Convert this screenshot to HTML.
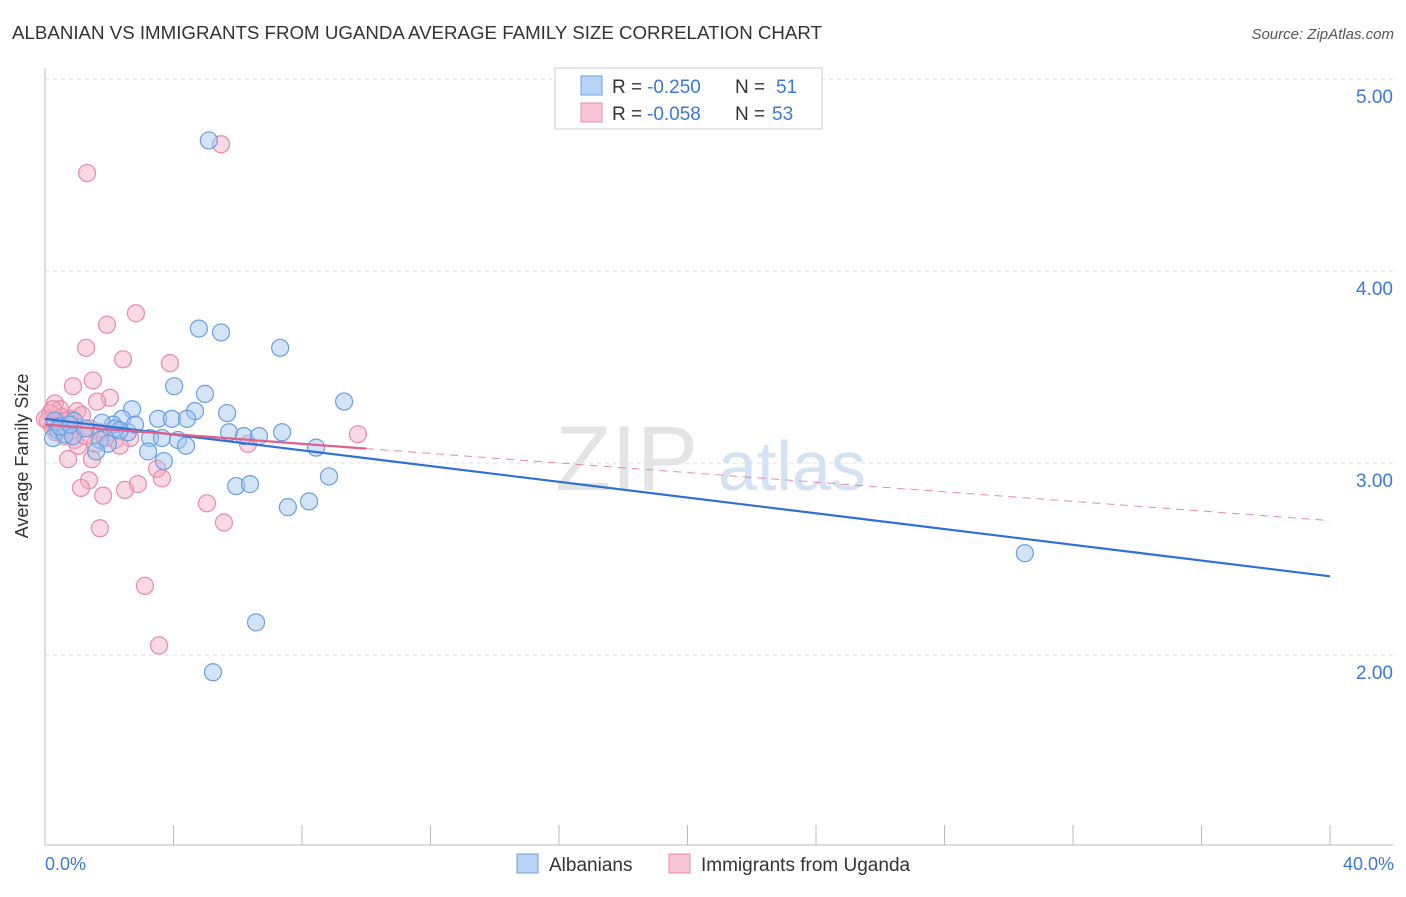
<!DOCTYPE html>
<html><head><meta charset="utf-8"><style>
body{margin:0;background:#fff;font-family:"Liberation Sans",sans-serif;}
svg text{font-family:"Liberation Sans",sans-serif;}
</style></head><body>
<svg id="chart" width="1406" height="892">
<text x="12" y="39" font-size="18.6" fill="#333" textLength="810" lengthAdjust="spacingAndGlyphs">ALBANIAN VS IMMIGRANTS FROM UGANDA AVERAGE FAMILY SIZE CORRELATION CHART</text>
<text x="1394" y="39" font-size="15" fill="#555" font-style="italic" text-anchor="end">Source: ZipAtlas.com</text>
<g id="grid"></g>
<g>
<text x="555" y="490" font-size="92" fill="#e4e4e4" font-family="Liberation Serif,serif">ZIP</text>
<text x="718" y="490" font-size="70" fill="#d3e2f4">atlas</text>
</g>
<g id="pts"></g>
<g id="lines"></g>
<text x="28" y="456" font-size="18" fill="#333" text-anchor="middle" transform="rotate(-90 28 456)">Average Family Size</text>
<text x="45" y="870" font-size="18" fill="#3b78d8">0.0%</text>
<text x="1394" y="870" font-size="18" fill="#3b78d8" text-anchor="end">40.0%</text>
<g>
<rect x="555" y="68" width="267" height="61" fill="#fff" stroke="#ccc"/>
<rect x="581" y="76" width="21" height="19" fill="#b9d3f5" stroke="#6a9fe0"/>
<rect x="581" y="103" width="21" height="19" fill="#f8c6d6" stroke="#e88aa8"/>
<text x="612" y="93" font-size="19" fill="#333">R =</text>
<text x="647" y="93" font-size="19" fill="#3b78d8">-0.250</text>
<text x="735" y="93" font-size="19" fill="#333">N =</text>
<text x="776" y="93" font-size="19" fill="#3b78d8">51</text>
<text x="612" y="120" font-size="19" fill="#333">R =</text>
<text x="647" y="120" font-size="19" fill="#3b78d8">-0.058</text>
<text x="735" y="120" font-size="19" fill="#333">N =</text>
<text x="772" y="120" font-size="19" fill="#3b78d8">53</text>
</g>
<g>
<rect x="517" y="854" width="21" height="19" fill="#b9d3f5" stroke="#6a9fe0"/>
<text x="549" y="871" font-size="19" fill="#333">Albanians</text>
<rect x="669" y="854" width="21" height="19" fill="#f8c6d6" stroke="#e88aa8"/>
<text x="701" y="871" font-size="19" fill="#333">Immigrants from Uganda</text>
</g>
</svg>
<script>
const yTicks=[5,4,3,2];
const yTickLabels=["5.00","4.00","3.00","2.00"];
const blueX=[5.10,4.79,5.48,7.32,9.31,4.02,4.98,2.71,2.40,3.52,3.95,4.67,5.67,4.42,2.12,1.77,0.90,0.31,0.40,0.25,0.62,0.87,1.25,1.71,1.96,2.58,3.27,3.64,4.14,4.39,5.73,6.19,6.66,7.38,8.44,1.59,3.21,3.70,5.95,6.38,8.84,7.56,8.22,30.5,6.57,5.23,0.47,0.78,2.18,2.80,2.33];
const blueY=[4.68,3.70,3.68,3.60,3.32,3.40,3.36,3.28,3.23,3.23,3.23,3.27,3.26,3.23,3.20,3.21,3.22,3.22,3.17,3.13,3.15,3.14,3.18,3.12,3.10,3.16,3.13,3.13,3.12,3.09,3.16,3.14,3.14,3.16,3.08,3.06,3.06,3.01,2.88,2.89,2.93,2.77,2.80,2.53,2.17,1.91,3.19,3.20,3.18,3.20,3.17];
const pinkX=[5.48,1.31,2.83,1.93,1.28,2.43,3.89,1.49,0.87,2.02,1.62,0.31,0.47,1.00,1.15,0.16,0.09,0.47,0.72,1.40,1.71,0.34,0.59,0.93,1.56,2.65,6.32,9.74,0.72,1.46,3.49,3.64,1.37,1.12,2.89,2.49,1.81,5.04,5.57,1.71,3.11,3.55,0.22,0.0,1.03,2.18,0.78,0.53,1.25,2.33,1.87,0.25,0.65];
const pinkY=[4.66,4.51,3.78,3.72,3.60,3.54,3.52,3.43,3.40,3.34,3.32,3.31,3.28,3.27,3.25,3.26,3.22,3.20,3.18,3.18,3.16,3.16,3.14,3.12,3.10,3.13,3.10,3.15,3.02,3.02,2.97,2.92,2.91,2.87,2.89,2.86,2.83,2.79,2.69,2.66,2.36,2.05,3.19,3.23,3.09,3.12,3.23,3.24,3.14,3.09,3.13,3.28,3.22];
const blueTrend=[3.23,2.41];
const pinkTrend=[3.20,2.70];
const pinkSolidEnd=10;
const NS="http://www.w3.org/2000/svg";
const sx=v=>45+v/40*1285;
const sy=v=>79+(5-v)*192;
const grid=document.getElementById('grid');
function mk(tag,attrs,parent){const e=document.createElementNS(NS,tag);for(const k in attrs)e.setAttribute(k,attrs[k]);parent.appendChild(e);return e;}
let ax=mk('line',{x1:45,y1:68,x2:45,y2:845,stroke:'#bbb'},grid);


let bx=mk('line',{x1:45,y1:845,x2:1393,y2:845,stroke:'#bbb'},grid);


for(let i=1;i<=10;i++){const t=mk('line',{x1:sx(i*4),x2:sx(i*4),y1:825,y2:845,stroke:'#bbb'},grid);

}
yTicks.forEach((v,i)=>{const g=mk('line',{x1:45,x2:1393,y1:sy(v),y2:sy(v),stroke:'#ddd','stroke-dasharray':'4,4'},grid);


const t=mk('text',{x:1393,y:sy(v)+24,'font-size':19,fill:'#3b78d8','text-anchor':'end'},grid);t.textContent=yTickLabels[i];

});
const pts=document.getElementById('pts');
pinkX.forEach((x,i)=>{const c=mk('circle',{cx:sx(x),cy:sy(pinkY[i]),r:8.5,fill:'rgba(244,170,195,0.45)',stroke:'#e88aa8','stroke-width':1.2},pts);

});
blueX.forEach((x,i)=>{const c=mk('circle',{cx:sx(x),cy:sy(blueY[i]),r:8.5,fill:'rgba(160,196,240,0.45)',stroke:'#6a9fe0','stroke-width':1.2},pts);

});
const lines=document.getElementById('lines');
const pv=x=>pinkTrend[0]+(pinkTrend[1]-pinkTrend[0])*x/40;
let l1=mk('line',{x1:sx(0),y1:sy(blueTrend[0]),x2:sx(40),y2:sy(blueTrend[1]),stroke:'#2f6fd6','stroke-width':2.2},lines);


let l2=mk('line',{x1:sx(0),y1:sy(pv(0)),x2:sx(pinkSolidEnd),y2:sy(pv(pinkSolidEnd)),stroke:'#e0608a','stroke-width':2.2},lines);


let l3=mk('line',{x1:sx(pinkSolidEnd),y1:sy(pv(pinkSolidEnd)),x2:sx(40),y2:sy(pv(40)),stroke:'#e88aa8','stroke-width':1,'stroke-dasharray':'8,6'},lines);


</script>
</body></html>
